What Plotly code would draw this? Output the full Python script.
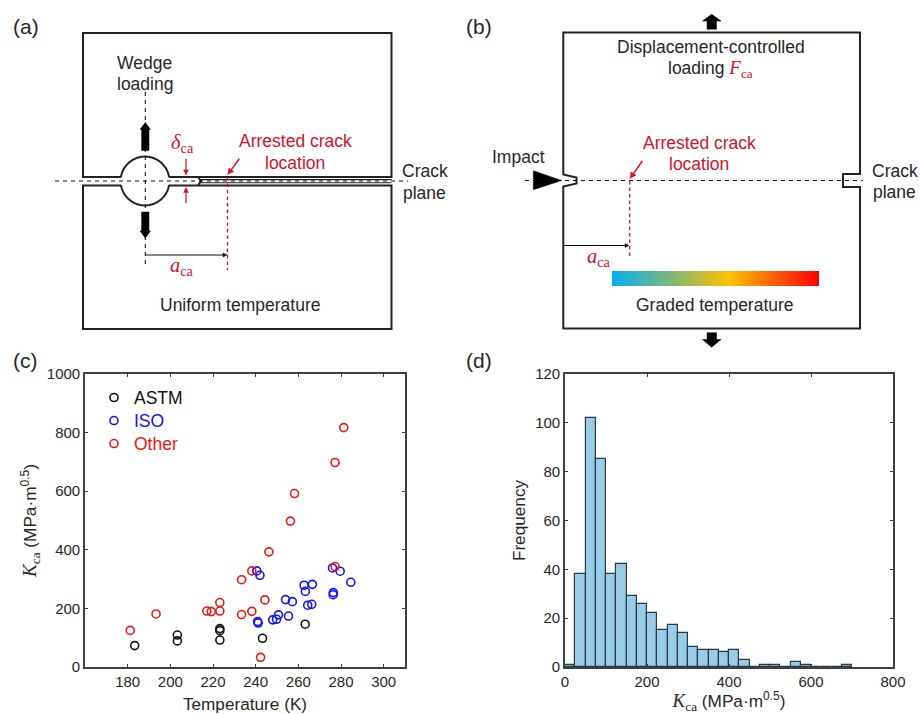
import numpy as np
import plotly.graph_objects as go

W, H = 920, 714

# ---------- panel (c) data ----------
astm_T = [183.3, 203.3, 203.3, 223.2, 223.2, 223.2, 243.2, 263.2]
astm_K = [73, 109, 89, 131, 124, 92, 98, 146]
iso_T = [240.5, 242.0, 240.9, 241.2, 248.0, 249.8, 250.7, 254.0, 255.4, 257.2,
         262.7, 263.3, 264.4, 266.3, 266.6, 276.0, 276.4, 276.3, 279.6, 284.6]
iso_K = [328, 313, 155, 150, 161, 163, 178, 230, 174, 223,
         279, 258, 211, 214, 282, 338, 254, 247, 327, 289]
other_T = [181.2, 193.3, 217.1, 219.2, 223.2, 223.2, 233.4, 233.4, 238.2, 238.2,
           242.3, 244.3, 246.2, 256.3, 258.2, 277.2, 277.2, 281.3]
other_K = [125, 181, 191, 189, 220, 191, 298, 179, 328, 190,
           33, 229, 393, 498, 592, 343, 698, 817]

# ---------- panel (d) data ----------
bin_centres = [12.5 + 25 * i for i in range(28)]
frequency = [1, 38, 102, 85, 38, 42, 29, 26, 22, 15, 17, 14, 8, 7, 7, 6, 7, 3,
             0, 1, 1, 0, 2, 1, 0, 0, 0, 1]

FONT = "Liberation Sans"
MATH = "Liberation Serif"
INK = "#262626"
AXIS = "#404040"
RED = "#D0122B"
LINE = "#222222"

fig = go.Figure()

# ---------- scatter ----------
def open_circles(xs, ys, name, color):
    fig.add_trace(go.Scatter(
        x=xs, y=ys, mode="markers",
        name=f"<span style='color:{color};font-size:17.5px'>{name}</span>",
        marker=dict(symbol="circle-open", size=8, color=color, line=dict(width=1.6, color=color)),
        xaxis="x", yaxis="y", showlegend=True))

open_circles(astm_T, astm_K, "ASTM", "#111111")
open_circles(iso_T, iso_K, "ISO", "#1414F0")
open_circles(other_T, other_K, "Other", "#F01414")

# ---------- histogram ----------
fig.add_trace(go.Bar(
    x=bin_centres, y=frequency, width=25, xaxis="x2", yaxis="y2", showlegend=False,
    marker=dict(color="#97CDE8", line=dict(color="#2A3A44", width=1.2))))

# ---------- gradient bar of panel (b) ----------
grad_edges = np.linspace(612, 819, 208)
fig.add_trace(go.Heatmap(
    x=grad_edges, y=[271, 286], z=[np.linspace(0, 1, 207).tolist()],
    xaxis="x3", yaxis="y3", showscale=False, hoverinfo="skip", zmin=0, zmax=1,
    colorscale=[[0, "#00B0F0"], [0.57, "#FFC000"], [1, "#FF0000"]]))

# ---------- schematic helpers (page-pixel overlay axes) ----------
shapes, notes = [], []

def poly(pts, color=LINE, width=2.0, dash="solid", fill=None, close=False):
    d = "M " + " L ".join(f"{x:.2f},{y:.2f}" for x, y in pts) + (" Z" if close else "")
    shapes.append(dict(type="path", path=d, xref="x3", yref="y3", layer="above",
                       line=dict(color=color, width=width, dash=dash),
                       fillcolor=fill if fill else "rgba(0,0,0,0)"))

def block(pts):
    poly(pts, color="#000000", width=0.5, fill="#000000", close=True)

def arrow(x0, y0, x1, y1, color, width=1.2, head=5.0, half=2.4):
    dx, dy = x1 - x0, y1 - y0
    n = (dx * dx + dy * dy) ** 0.5
    ux, uy = dx / n, dy / n
    bx, by = x1 - ux * head, y1 - uy * head
    poly([(x0, y0), (bx, by)], color=color, width=width)
    poly([(x1, y1), (bx - uy * half, by + ux * half), (bx + uy * half, by - ux * half)],
         color=color, width=0.5, fill=color, close=True)

def txt(x, y, s, size=17.5, color=INK, family=FONT):
    notes.append(dict(x=x, y=y, xref="x3", yref="y3", text=s, showarrow=False,
                      xanchor="center", yanchor="middle",
                      font=dict(size=size, color=color, family=family)))

def sym(x, y, letter):
    txt(x, y, f"<i>{letter}</i><sub>ca</sub>", size=20.5, color=RED, family=MATH)

DASH = "4px,4px"
RDASH = "3.5px,3px"

# ---------- panel (a) ----------
cx, cy, r = 145.0, 181.0, 24.4
ang = np.arcsin(4.0 / r)
th_up = np.linspace(np.pi + ang, 2 * np.pi - ang, 50)
poly([(121, 177), (83, 177), (83, 33), (391.5, 33), (391.5, 177), (169, 177)], width=2.0)
poly([(198, 177), (201, 181), (198, 185.5)], width=2.0)
poly([(169, 185.5), (391.5, 185.5), (391.5, 329), (83, 329), (83, 185.5), (121, 185.5)], width=2.0)
poly([(cx + r * np.cos(t), cy + r * np.sin(t)) for t in th_up], width=2.0)
poly([(cx + r * np.cos(t), cy - r * np.sin(t)) for t in th_up], width=2.0)
poly([(200, 179.6), (391.5, 179.6)], width=1.1)
poly([(200, 182.8), (391.5, 182.8)], width=1.1)
poly([(55, 181), (408, 181)], width=1.1, dash=DASH, color="#111111")
poly([(145.3, 92), (145.3, 268)], width=1.1, dash=DASH, color="#111111")
block([(145.3, 122.5), (150.5, 129.5), (149, 129.5), (149, 150.5), (141.6, 150.5), (141.6, 129.5), (140, 129.5)])
block([(145.3, 238), (150.5, 231), (149, 231), (149, 212), (141.6, 212), (141.6, 231), (140, 231)])
poly([(227.5, 177), (227.5, 270)], color=RED, width=1.3, dash=RDASH)
arrow(186, 159, 186, 175, RED)
arrow(186, 203, 186, 187.5, RED)
arrow(239.3, 158.7, 227.8, 174.5, RED, width=1.5, head=6, half=3)
arrow(145.5, 255, 227, 255, "#111111", width=1.0, head=4, half=2)

txt(25.5, 26, "(a)", size=21)
txt(144.5, 62.5, "Wedge")
txt(144.5, 84, "loading")
txt(295, 141, "Arrested crack", color=RED)
txt(295, 162.5, "location", color=RED)
txt(424.5, 171, "Crack")
txt(424.5, 192.5, "plane")
txt(240, 304.5, "Uniform temperature")
sym(182, 143, "δ")
sym(182, 266, "a")

# ---------- panel (b) ----------
poly([(563.3, 174.5), (563.3, 32.5), (860, 32.5), (860, 174), (843, 174), (843, 187), (860, 187),
      (860, 328.5), (563.3, 328.5), (563.3, 186.5), (576.5, 183.5), (576.5, 177.5)], width=2.0, close=True)
poly([(525, 180.5), (863, 180.5)], width=1.1, dash=DASH, color="#111111")
poly([(629.7, 181), (629.7, 257)], color=RED, width=1.3, dash=RDASH)
arrow(642.3, 161, 630, 178.5, RED, width=1.5, head=6, half=3)
arrow(564, 245.5, 629, 245.5, "#111111", width=1.0, head=4, half=2)
block([(533.3, 170.7), (533.3, 189.7), (561.7, 180.5)])
block([(711.7, 14.3), (721, 21), (716.5, 21), (716.5, 29.3), (707, 29.3), (707, 21), (702.5, 21)])
block([(711.7, 347.3), (721, 339.5), (716.5, 339.5), (716.5, 332.7), (707, 332.7), (707, 339.5), (702.5, 339.5)])

txt(479, 26, "(b)", size=21)
txt(711.3, 47, "Displacement-controlled")
txt(710.7, 69, f"loading <span style='font-family:{MATH};color:{RED};font-size:19px'><i>F</i><sub>ca</sub></span>")
txt(699.3, 142.5, "Arrested crack", color=RED)
txt(699.3, 164, "location", color=RED)
txt(518.7, 157, "Impact")
txt(895.3, 171, "Crack")
txt(894, 192, "plane")
txt(714.7, 305, "Graded temperature")
sym(599.3, 257, "a")

txt(25.7, 360, "(c)", size=21)
txt(479, 360, "(d)", size=21)

# ---------- axis titles ----------
K_LABEL = (f"<span style='font-family:{MATH};font-size:19px'><i>K</i><sub>ca</sub></span>"
           " (MPa·m<sup>0.5</sup>)")

def axis(**kw):
    base = dict(showgrid=False, zeroline=False, showline=True, linecolor=AXIS, linewidth=1.6,
                mirror="ticks", ticks="inside", ticklen=3.5, tickwidth=1.2, tickcolor=AXIS,
                tickfont=dict(size=15, color=INK, family=FONT), automargin=False,
                title_font=dict(size=17.2, color=INK, family=FONT))
    base.update(kw)
    return base

x0c, x1c, x0d, x1d, top, bot = 85, 405, 565, 893, 374, 667
dom_y = [1 - bot / H, 1 - top / H]

fig.update_layout(
    template="none",
    width=W, height=H, margin=dict(l=0, r=0, t=0, b=0, pad=0),
    paper_bgcolor="white", plot_bgcolor="rgba(0,0,0,0)",
    font=dict(family=FONT, color=INK), bargap=0,
    xaxis=axis(domain=[x0c / W, x1c / W], range=[160, 310], tickvals=[180, 200, 220, 240, 260, 280, 300],
               title=dict(text="Temperature (K)", standoff=12), anchor="y"),
    yaxis=axis(domain=dom_y, range=[0, 1000], tickvals=[0, 200, 400, 600, 800, 1000],
               title=dict(text=K_LABEL, standoff=6), anchor="x"),
    xaxis2=axis(domain=[x0d / W, x1d / W], range=[0, 800], tickvals=[0, 200, 400, 600, 800],
                title=dict(text=K_LABEL, standoff=11), anchor="y2"),
    yaxis2=axis(domain=dom_y, range=[0, 120], tickvals=[0, 20, 40, 60, 80, 100, 120],
                title=dict(text="Frequency", standoff=5), anchor="x2"),
    xaxis3=dict(domain=[0, 1], range=[0, W], visible=False, fixedrange=True, anchor="y3"),
    yaxis3=dict(domain=[0, 1], range=[H, 0], visible=False, fixedrange=True, anchor="x3"),
    legend=dict(x=94 / W, y=1 - 381 / H,
                xanchor="left", yanchor="top", bgcolor="rgba(0,0,0,0)", borderwidth=0,
                font=dict(size=15.4, family=FONT), itemwidth=30),
    shapes=shapes, annotations=notes, hovermode=False,
)

fig.write_html("out.html", config=dict(displayModeBar=False),
               post_script="document.body.style.margin='0';document.body.style.overflow='hidden';")
